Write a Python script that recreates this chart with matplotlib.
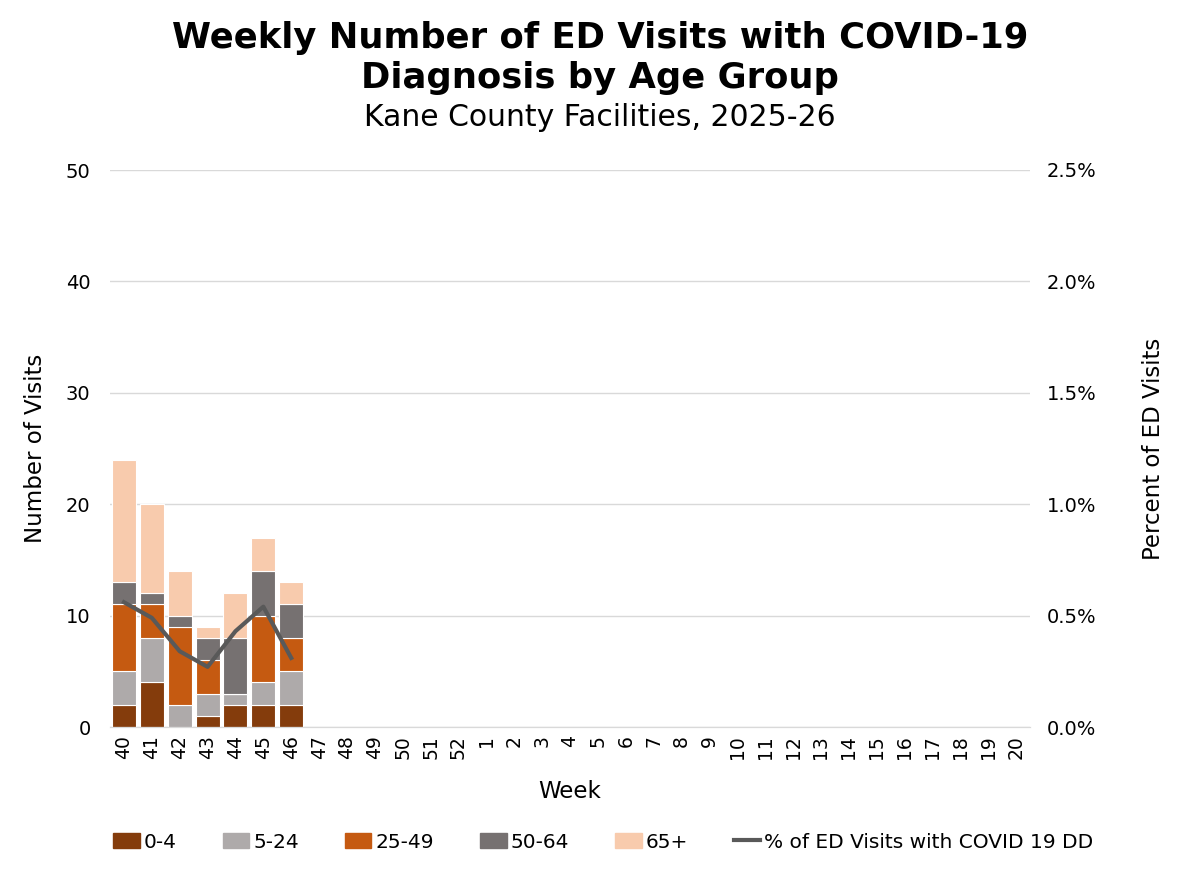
import numpy as np
import matplotlib.pyplot as plt
from matplotlib.ticker import FuncFormatter
from matplotlib.lines import Line2D
from matplotlib.patches import Patch

plt.rcParams['font.family'] = ['DejaVu Sans']

# Data
weeks = [str(w) for w in list(range(40, 53)) + list(range(1, 21))]
age_groups = ['0-4', '5-24', '25-49', '50-64', '65+']
v_0_4 = [2, 4, 0, 1, 2, 2, 2]
v_5_24 = [3, 4, 2, 2, 1, 2, 3]
v_25_49 = [6, 3, 7, 3, 0, 6, 3]
v_50_64 = [2, 1, 1, 2, 5, 4, 3]
v_65 = [11, 8, 4, 1, 4, 3, 2]
pct_ed = [0.56, 0.49, 0.34, 0.27, 0.43, 0.54, 0.31]

colors = ['#843C0C', '#AEAAAA', '#C55A11', '#767171', '#F8CBAD']
line_color = '#595959'

fig = plt.figure(figsize=(12, 8.72), dpi=100)
ax = fig.add_axes([110/1200, 1-727/872, 920/1200, 557/872])
ax2 = ax.twinx()

n = len(v_0_4)
x = np.arange(n)
bottom = np.zeros(n)
for vals, c in zip([v_0_4, v_5_24, v_25_49, v_50_64, v_65], colors):
    ax.bar(x, vals, bottom=bottom, width=0.86, color=c, edgecolor='white', linewidth=0.8, zorder=2)
    bottom += np.array(vals)

ax2.plot(x, pct_ed, color=line_color, linewidth=3, zorder=3)

ax.set_xlim(-0.5, len(weeks) - 0.5)
ax.set_ylim(0, 50)
ax2.set_ylim(0, 2.5)
ax.set_yticks(range(0, 51, 10))
ax2.set_yticks(np.arange(0, 2.51, 0.5))
ax2.yaxis.set_major_formatter(FuncFormatter(lambda v, p: f'{v:.1f}%'))
ax.set_xticks(range(len(weeks)))
ax.set_xticklabels(weeks, rotation=90, fontsize=13.5)
ax.tick_params(axis='y', labelsize=14, length=0, pad=14)
ax2.tick_params(axis='y', labelsize=14, length=0, pad=12)
ax.tick_params(axis='x', length=0, pad=6)

ax.grid(axis='y', color='#D9D9D9', linewidth=1, zorder=0)
ax.set_axisbelow(True)
for a in (ax, ax2):
    for s in ['top', 'left', 'right']:
        a.spines[s].set_visible(False)
    a.spines['bottom'].set_color('#D9D9D9')

ax.set_xlabel('Week', fontsize=16.5)
ax.set_ylabel('Number of Visits', fontsize=16.5)
ax2.set_ylabel('Percent of ED Visits', fontsize=16.5)
ax.xaxis.set_label_coords(0.5, -0.095)
ax.yaxis.set_label_coords(-0.068, 0.5)
ax2.yaxis.set_label_coords(1.122, 0.5)

fig.text(0.5, 1-48/872, 'Weekly Number of ED Visits with COVID-19',
         ha='center', va='baseline', fontsize=25.5, fontweight='bold')
fig.text(0.5, 1-88/872, 'Diagnosis by Age Group',
         ha='center', va='baseline', fontsize=25.5, fontweight='bold')
fig.text(0.5, 1-126/872, 'Kane County Facilities, 2025-26', ha='center', va='baseline', fontsize=21.5)

handles = [Patch(color=c) for c in colors] + [Line2D([0], [0], color=line_color, linewidth=3)]
labels = age_groups + ['% of ED Visits with COVID 19 DD']
fig.legend(handles, labels, loc='center', bbox_to_anchor=(0.503, 1-842/872), ncol=6, frameon=False,
           fontsize=14.5, handlelength=1.3, handleheight=0.8, handletextpad=0.2, columnspacing=2.3)

fig.savefig('out.png', dpi=100, facecolor='white')
